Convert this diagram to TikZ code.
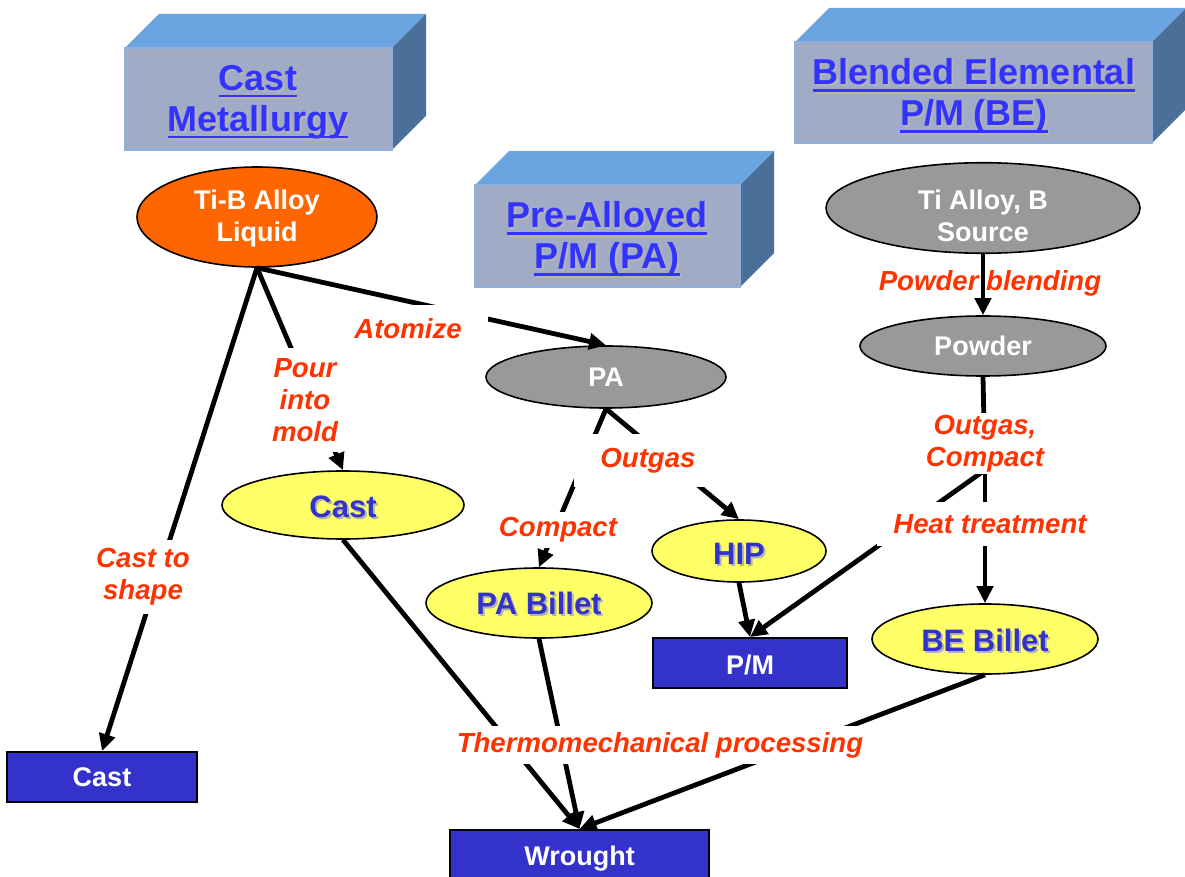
\documentclass[tikz,border=0pt]{standalone}
\usepackage{fontspec}
\setmainfont{Liberation Sans}
\usetikzlibrary{arrows.meta}
\usetikzlibrary{shapes.geometric}
\definecolor{meltorange}{HTML}{FF6600}
\definecolor{powdergray}{HTML}{999999}
\definecolor{billetyellow}{HTML}{FFFF66}
\definecolor{routeblue}{HTML}{3333CC}
\definecolor{titleblue}{HTML}{3333FF}
\definecolor{steptext}{HTML}{FF3300}
\definecolor{slabfront}{HTML}{A2ABC6}
\definecolor{slabtop}{HTML}{6BA5E1}
\definecolor{slabside}{HTML}{4A6F99}
\definecolor{slabedge}{HTML}{8DB0DC}
\definecolor{shadowgray}{HTML}{B4B4B4}
\newlength\ulnwidth
\def\uln#1{\settowidth{\ulnwidth}{#1}\rlap{\rule[-3.6pt]{\ulnwidth}{1.4pt}}#1}
\def\shd#1{\leavevmode\rlap{\hspace{1pt}\raisebox{-1pt}{\color{shadowgray}#1}}#1}
\def\dropby#1#2{\raisebox{-#1}[\height][\depth]{#2}}
\def\slab#1#2#3#4{%
	\fill[slabtop] (#1,#2) -- (#1+34,#2-34) -- (#3+34,#2-34) -- (#3,#2) -- cycle;
	\fill[slabside] (#3,#2) -- (#3+34,#2-34) -- (#3+34,#4-34) -- (#3,#4) -- cycle;
	\filldraw[fill=slabfront,draw=slabedge,line width=0.8pt] (#1,#2) rectangle (#3,#4);}

\begin{document}
\begin{tikzpicture}[x=0.5pt,y=-0.5pt,>={Triangle[length=8.5pt,width=8pt]},
				node distance=69pt]
				\tikzstyle{melt}=[ellipse,draw,line width=0.8pt,fill=meltorange,text=white,
					inner sep=0pt,align=center,font=\fontsize{13.5}{16}\selectfont\bfseries]
				\tikzstyle{powder}=[melt,fill=powdergray]
				\tikzstyle{billet}=[ellipse,draw,line width=0.8pt,fill=billetyellow,text=routeblue,
					inner sep=0pt,font=\fontsize{15.5}{18}\selectfont\bfseries]
				\tikzstyle{product}=[rectangle,draw,line width=1pt,fill=routeblue,text=white,
					inner sep=0pt,font=\fontsize{13.5}{16}\selectfont\bfseries]
				\tikzstyle{heading}=[text=titleblue,align=center,font=\fontsize{18}{20.5}\selectfont\bfseries]
				\tikzstyle{route}=[text=steptext,fill=white,align=center,inner sep=2pt,
					font=\fontsize{13.8}{16}\selectfont\bfseries\itshape]
				\tikzstyle{flow}=[->,line width=2.4pt]
				
				\useasboundingbox (0,0) rectangle (1185,877);
				
				\slab{125}{48}{392}{150}
				\slab{475}{185}{740}{287}
				\slab{795}{42}{1152}{143}
				\node[heading] (cm) at (258,103) {\shd{\uln{Cast}}\\\shd{\uln{Metallurgy}}};
				\node[heading] (pam) at (607,240) {\shd{\uln{Pre-Alloyed}}\\\shd{\uln{P/M (PA)}}};
				\node[heading] (bem) at (974,97) {\shd{\uln{Blended Elemental}}\\\shd{\uln{P/M (BE)}}};
				
				\node[melt,minimum width=120pt,minimum height=50pt] (tib) at (257,217)
					{\dropby{1pt}{\begin{tabular}{@{}c@{}}Ti-B Alloy\\Liquid\end{tabular}}};
				\node[powder,minimum width=157pt,minimum height=44pt] (src) at (983,208)
					{\dropby{5.5pt}{\begin{tabular}{@{}c@{}}Ti Alloy, B\\Source\end{tabular}}};
				\node[powder,minimum width=123pt,minimum height=30pt] (pow) [below of=src] {Powder};
				\node[powder,minimum width=120pt,minimum height=31pt] (pa) at (606,377) {PA};
				
				\node[billet,minimum width=121pt,minimum height=34pt] (castb) at (343,505) {\dropby{1.5pt}{\shd{Cast}}};
				\node[billet,minimum width=113pt,minimum height=35pt] (pab) at (539,603) {\dropby{0.8pt}{\shd{PA Billet}}};
				\node[billet,minimum width=87pt,minimum height=31pt] (hip) at (739,551) {\dropby{2pt}{\shd{HIP}}};
				\node[billet,minimum width=113pt,minimum height=35pt] (beb) at (985,639) {\dropby{1pt}{\shd{BE Billet}}};
				
				\node[product,minimum width=95pt,minimum height=25pt] (castp) at (102,777) {Cast};
				\node[product,minimum width=97pt,minimum height=25pt] (pm) at (750,663) {\dropby{1pt}{P/M}};
				\node[product,minimum width=129.5pt,minimum height=25pt] (wr) at (579.5,855) {\dropby{2pt}{Wrought}};
				
				\coordinate (split) at (985,470);
				
				\path[flow]
				(tib.south) edge (castp.north)
				(tib.south) edge (castb.north)
				(tib.south) edge (pa.north)
				(pa.south) edge (pab.north)
				(pa.south) edge (hip.north)
				(hip.south) edge (pm.north)
				(pow.south) edge[-] (split)
				(split) edge (pm.north)
				(split) edge (beb.north)
				(castb.south) edge (wr.north)
				(pab.south) edge (wr.north)
				(beb.south) edge (wr.north);
				
				\node[route,inner ysep=4.5pt] (l1) at (143,577) {Cast to\\shape};
				\node[route,inner ysep=5pt] (l2) at (305,400) {Pour\\into\\mold};
				\node[route,inner xsep=13pt,inner ysep=7pt] (l3) at (408,329) {Atomize};
				\node[route,inner xsep=13pt,inner ysep=7pt] (l4) at (648,461) {Outgas};
				\node[route,inner ysep=3pt] (l5) at (558,530) {Compact};
				\node[route,inner ysep=1pt] (l6) at (985,444) {Outgas,\\Compact};
				\node[route,inner xsep=8pt,inner ysep=6pt] (l7) at (990,524) {Heat treatment};
				\node[route,inner ysep=3pt] (l8) at (660,745) {Thermomechanical processing};
				\node[route,fill=none] (l9) at (990,283) {Powder blending};
				
				\path[flow] (src.south) edge (pow.north);
\end{tikzpicture}
\end{document}
